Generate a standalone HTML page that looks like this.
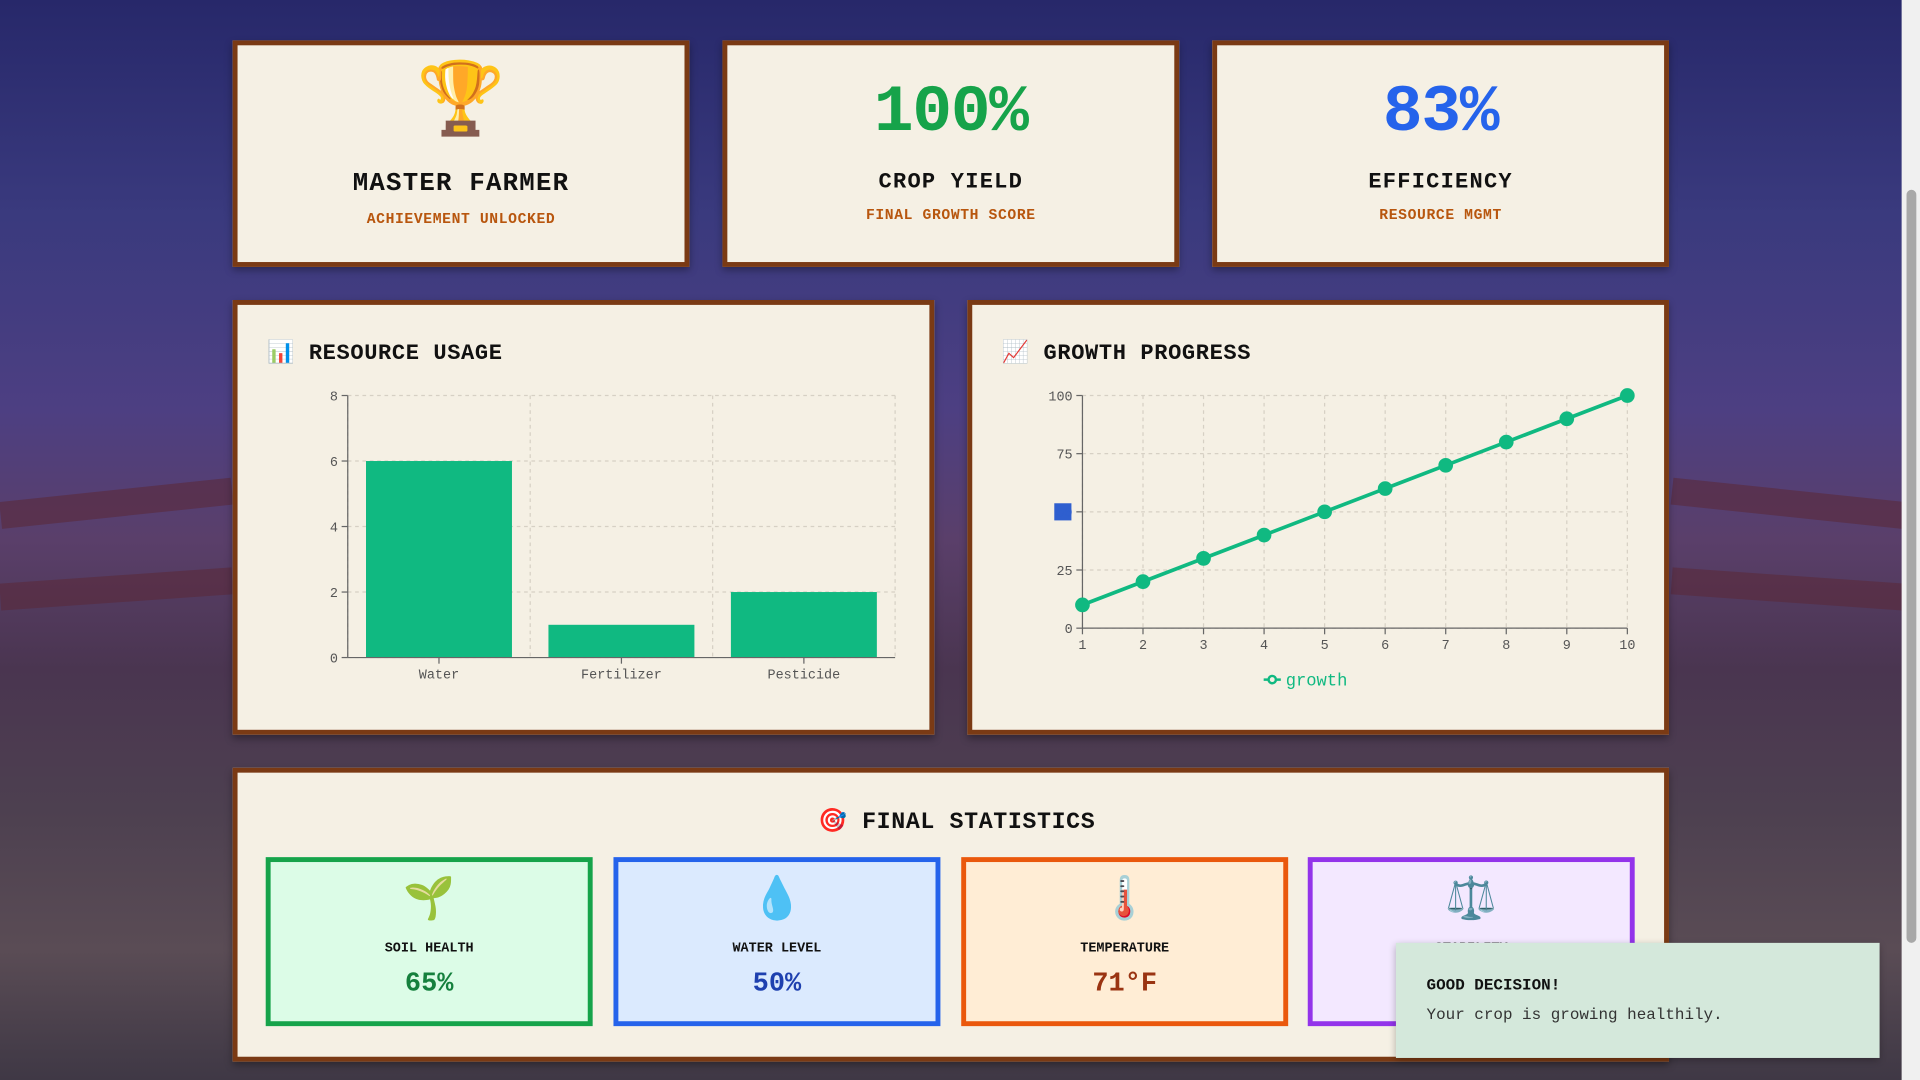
<!DOCTYPE html>
<html><head><meta charset="utf-8">
<style>
html,body{margin:0;padding:0;width:1920px;height:1080px;overflow:hidden;font-family:"Liberation Mono","DejaVu Sans Mono",monospace;}
#wrap{position:absolute;left:0;top:0;width:1568px;height:882px;transform:scale(1.22449);transform-origin:0 0;
background:linear-gradient(180deg,#27286a 0%,#3a3a7e 20%,#4d3f82 38%,#5a3f6a 50%,#4a3550 62%,#4d4050 75%,#5a4c55 88%,#3f3845 100%);overflow:hidden;}
.fence{position:absolute;background:#5a2a3a;opacity:.6;}
.card{position:absolute;background:#f5f0e4;border:4px solid #7a3a14;box-sizing:border-box;box-shadow:0 3px 6px rgba(0,0,0,.35);}
.ctr{text-align:center;}
.title{font-weight:bold;font-size:20px;color:#111;letter-spacing:1px;}
.sub{font-weight:bold;font-size:12px;color:#b8560e;letter-spacing:.5px;}
.big{font-weight:bold;font-size:54px;letter-spacing:-1px;}
.hdr{position:absolute;font-weight:bold;font-size:18px;color:#111;letter-spacing:.5px;}
.stat{position:absolute;top:700px;width:267px;height:138px;box-sizing:border-box;border:4px solid;text-align:center;}
.stat .ic{font-size:34px;margin-top:12px;height:42px;line-height:42px;}
.stat .lb{font-size:11px;font-weight:bold;color:#111;margin-top:11px;}
.stat .vl{font-size:22px;font-weight:bold;margin-top:10px;}
</style></head><body>
<div id="wrap">
  <div class="fence" style="left:0;top:400px;width:190px;height:22px;transform:rotate(-6deg)"></div>
  <div class="fence" style="left:0;top:470px;width:190px;height:22px;transform:rotate(-4deg)"></div>
  <div class="fence" style="left:1365px;top:400px;width:190px;height:22px;transform:rotate(6deg)"></div>
  <div class="fence" style="left:1365px;top:470px;width:190px;height:22px;transform:rotate(4deg)"></div>
  <div style="position:absolute;left:1553px;top:0;width:15px;height:882px;background:#f0f0f0">
    <div style="position:absolute;left:4px;top:155px;width:8px;height:615px;background:#a8a8a8;border-radius:4px"></div>
  </div>

  <div class="card ctr" style="left:190px;top:33px;width:373px;height:185px">
    <div style="font-size:58px;line-height:70px;margin-top:14px">🏆</div>
    <div class="title" style="margin-top:18px;font-size:21px">MASTER FARMER</div>
    <div class="sub" style="margin-top:10px">ACHIEVEMENT UNLOCKED</div>
  </div>
  <div class="card ctr" style="left:590px;top:33px;width:373px;height:185px">
    <div class="big" style="color:#16a34a;margin-top:26px;line-height:60px">100%</div>
    <div class="title" style="font-size:18px;margin-top:16px">CROP YIELD</div>
    <div class="sub" style="margin-top:10px">FINAL GROWTH SCORE</div>
  </div>
  <div class="card ctr" style="left:990px;top:33px;width:373px;height:185px">
    <div class="big" style="color:#2563eb;margin-top:26px;line-height:60px">83%</div>
    <div class="title" style="font-size:18px;margin-top:16px">EFFICIENCY</div>
    <div class="sub" style="margin-top:10px">RESOURCE MGMT</div>
  </div>

  <div class="card" style="left:190px;top:245px;width:573px;height:355px"></div>
  <div class="hdr" style="left:218px;top:277px">📊 RESOURCE USAGE</div>
  <div class="card" style="left:790px;top:245px;width:573px;height:355px"></div>
  <div class="hdr" style="left:818px;top:277px">📈 GROWTH PROGRESS</div>

  <svg id="charts" style="position:absolute;left:0;top:0" width="1568" height="882"></svg>

  <div class="card" style="left:190px;top:627px;width:1173px;height:240px"></div>
  <div class="hdr" style="left:668px;top:658px;font-size:19px">🎯 FINAL STATISTICS</div>
  <div class="stat" style="left:217px;border-color:#16a34a;background:#dcfce7"><div class="ic">🌱</div><div class="lb">SOIL HEALTH</div><div class="vl" style="color:#15803d">65%</div></div>
  <div class="stat" style="left:501px;border-color:#2563eb;background:#dbeafe"><div class="ic">💧</div><div class="lb">WATER LEVEL</div><div class="vl" style="color:#1e40af">50%</div></div>
  <div class="stat" style="left:785px;border-color:#ea580c;background:#ffedd5"><div class="ic">🌡️</div><div class="lb">TEMPERATURE</div><div class="vl" style="color:#9a3412">71°F</div></div>
  <div class="stat" style="left:1068px;border-color:#9333ea;background:#f3e8ff"><div class="ic">⚖️</div><div class="lb">STABILITY</div><div class="vl" style="color:#6b21a8">OK</div></div>

  <div style="position:absolute;left:1140px;top:770px;width:395px;height:94px;background:#d4e8db;box-shadow:0 2px 6px rgba(0,0,0,.3)">
    <div style="position:absolute;left:25px;top:27px;font-size:13px;font-weight:bold;color:#111">GOOD DECISION!</div>
    <div style="position:absolute;left:25px;top:51px;font-size:13px;color:#333">Your crop is growing healthily.</div>
  </div>
</div>
<script>
const barCategories=["Water","Fertilizer","Pesticide"];
const barValues=[6,1,2];
const barTicks=[0,2,4,6,8];
const lineX=[1,2,3,4,5,6,7,8,9,10];
const lineValues=[10,20,30,40,50,60,70,80,90,100];
const lineYTicks=[0,25,50,75,100];

const svg=document.getElementById('charts');
const NS='http://www.w3.org/2000/svg';
function mk(t,a,txt){const e=document.createElementNS(NS,t);for(const k in a)e.setAttribute(k,a[k]);if(txt!==undefined)e.textContent=txt;svg.appendChild(e);return e;}
const F='Liberation Mono, monospace';
// bar chart
const bx0=284,bx1=731,by0=537,by1=323;
const bY=v=>by0-(v/8)*(by0-by1);
const band=(bx1-bx0)/barCategories.length;
const bX=i=>bx0+band*i;
barTicks.forEach(t=>{
  let g=mk('line',{x1:bx0,x2:bx1,y1:bY(t),y2:bY(t),stroke:'#d6d0c4','stroke-dasharray':'3,3'});
  
  let k=mk('line',{x1:bx0-5,x2:bx0,y1:bY(t),y2:bY(t),stroke:'#666'});
  
  let l=mk('text',{x:bx0-8,y:bY(t)+4,'text-anchor':'end','font-size':11,fill:'#555','font-family':F},t);
  
});
for(let i=0;i<=barCategories.length;i++){let g=mk('line',{x1:bX(i),x2:bX(i),y1:by1,y2:by0,stroke:'#d6d0c4','stroke-dasharray':'3,3'});}
barCategories.forEach((c,i)=>{
  const pad=band*0.1;
  let r=mk('rect',{x:bX(i)+pad,y:bY(barValues[i]),width:band-2*pad,height:by0-bY(barValues[i]),fill:'#10b981'});
  
  let l=mk('text',{x:bX(i)+band/2,y:by0+17,'text-anchor':'middle','font-size':11,fill:'#555','font-family':F},c);
  
  let k=mk('line',{x1:bX(i)+band/2,x2:bX(i)+band/2,y1:by0,y2:by0+5,stroke:'#666'});
});
let a1=mk('line',{x1:bx0,x2:bx0,y1:by1,y2:by0,stroke:'#666'});
let a2=mk('line',{x1:bx0,x2:bx1,y1:by0,y2:by0,stroke:'#666'});
// line chart
const lx0=884,lx1=1329,ly0=513,ly1=323;
const lX=v=>lx0+(v-1)/9*(lx1-lx0);
const lY=v=>ly0-v/100*(ly0-ly1);
lineYTicks.forEach(t=>{
  let g=mk('line',{x1:lx0,x2:lx1,y1:lY(t),y2:lY(t),stroke:'#d6d0c4','stroke-dasharray':'3,3'});
  let k=mk('line',{x1:lx0-5,x2:lx0,y1:lY(t),y2:lY(t),stroke:'#666'});
  if(t===50){let h=mk('rect',{x:861,y:lY(t)-7,width:14,height:14,fill:'#2f5fcf'});}
  let l=mk('text',{x:lx0-8,y:lY(t)+4,'text-anchor':'end','font-size':11,fill:t===50?'#2f5fcf':'#555','font-family':F},t);
});
lineX.forEach(x=>{
  let g=mk('line',{x1:lX(x),x2:lX(x),y1:ly1,y2:ly0,stroke:'#d6d0c4','stroke-dasharray':'3,3'});
  let k=mk('line',{x1:lX(x),x2:lX(x),y1:ly0,y2:ly0+5,stroke:'#666'});
  let l=mk('text',{x:lX(x),y:ly0+17,'text-anchor':'middle','font-size':11,fill:'#555','font-family':F},x);
});
let a3=mk('line',{x1:lx0,x2:lx0,y1:ly1,y2:ly0,stroke:'#666'});
let a4=mk('line',{x1:lx0,x2:lx1,y1:ly0,y2:ly0,stroke:'#666'});
let pl=mk('polyline',{points:lineX.map((x,i)=>lX(x)+','+lY(lineValues[i])).join(' '),fill:'none',stroke:'#10b981','stroke-width':3});

lineX.forEach((x,i)=>{let c=mk('circle',{cx:lX(x),cy:lY(lineValues[i]),r:6,fill:'#10b981'});});
let lg=mk('line',{x1:1032,x2:1046,y1:555,y2:555,stroke:'#10b981','stroke-width':2});
let lc=mk('circle',{cx:1039,cy:555,r:3,fill:'#f5f0e4',stroke:'#10b981','stroke-width':2});
let lt=mk('text',{x:1050,y:560,'font-size':14,fill:'#10b981','font-family':F},'growth');
</script>
</body></html>
